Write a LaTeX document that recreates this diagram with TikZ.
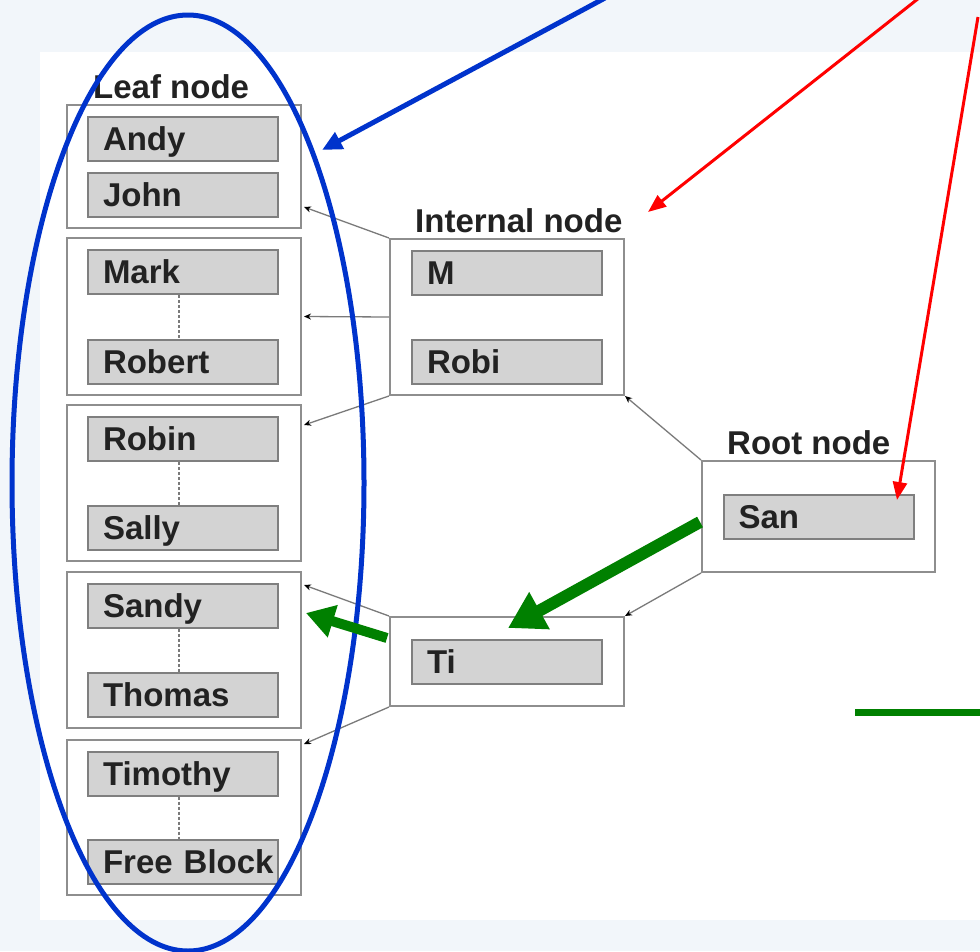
\documentclass[tikz,border=0pt]{standalone}
\usepackage{fontspec}
\setmainfont{Liberation Sans}
\usetikzlibrary{arrows.meta,calc}
\definecolor{bgtint}{HTML}{F2F6FA}
\definecolor{itemfill}{HTML}{D3D3D3}
\definecolor{itemline}{HTML}{7F7F7F}
\definecolor{boxline}{HTML}{8E8E8E}
\definecolor{conline}{HTML}{7A7A7A}
\definecolor{annblue}{HTML}{0033CC}
\definecolor{anngreen}{HTML}{008000}
\definecolor{txt}{HTML}{222222}
\tikzset{
  outerbox/.style={draw=boxline, line width=2pt, fill=white, minimum width=234pt, inner sep=0pt},
  itembox/.style={draw=itemline, line width=2pt, fill=itemfill, minimum width=190pt, minimum height=44pt,
     text width=190pt, inner xsep=0pt, inner ysep=0pt, align=left, text height=23pt, text depth=0pt,
     execute at begin node={\hspace*{15pt}},
     font=\fontsize{33}{35}\selectfont\bfseries, text=txt},
  lbl/.style={font=\fontsize{33}{35}\selectfont\bfseries, text=txt, inner sep=0pt, anchor=base west},
  con/.style={draw=conline, line width=1.3pt, -{Stealth[length=7pt,width=6pt,black]}},
  dashlink/.style={draw=conline, line width=1.2pt, dash pattern=on 3pt off 2pt},
  bluearrow/.style={draw=annblue, line width=5pt, -{Triangle[length=20pt,width=18pt]}},
  redarrow/.style={draw=red, line width=3pt, -{Triangle[length=18pt,width=14pt]}},
  greenarrow/.style={draw=anngreen, line width=12pt, -{Triangle[length=36pt,width=40pt]}},
}
\begin{document}
\begin{tikzpicture}[x=1pt,y=-1pt]
\useasboundingbox (0,0) rectangle (980,951);
% background
\fill[bgtint] (0,0) rectangle (980,951);
\fill[white] (40,52) rectangle (980,920);
% leaf outer boxes
\node[outerbox, minimum height=123pt] (L1) at (184,166.5) {};
\node[outerbox, minimum height=157pt] (L2) at (184,316.5) {};
\node[outerbox, minimum height=156pt] (L3) at (184,483) {};
\node[outerbox, minimum height=156pt] (L4) at (184,650) {};
\node[outerbox, minimum height=155pt] (L5) at (184,817.5) {};
% internal, root, Ti boxes
\node[outerbox, minimum height=156pt] (IN) at (507,317) {};
\node[outerbox, minimum width=233pt, minimum height=111pt] (RT) at (818.5,516.5) {};
\node[outerbox, minimum height=89pt] (TB) at (507,661.5) {};
% labels
\node[lbl] (lleaf) at (93,98) {Leaf node};
\node[lbl] (lint) at (415,232) {Internal node};
\node[lbl] (lroot) at (727,454) {Root node};
% items
\node[itembox] (andy) at (183,139) {Andy};
\node[itembox] (john) at (183,194.5) {John};
\node[itembox] (mark) at (183,272) {Mark};
\node[itembox] (robert) at (183,361.5) {Robert};
\node[itembox] (robin) at (183,439) {Robin};
\node[itembox] (sally) at (183,528) {Sally};
\node[itembox] (sandy) at (183,606) {Sandy};
\node[itembox] (thomas) at (183,695) {Thomas};
\node[itembox] (timothy) at (183,773.5) {Timothy};
\node[itembox] (free) at (183,862) {Free Block};
\node[itembox] (m) at (507,272.5) {M};
\node[itembox] (robi) at (507,361.5) {Robi};
\node[itembox] (san) at (818.5,517) {San};
\node[itembox] (ti) at (507,662) {Ti};
% dashed links
\draw[dashlink] ([xshift=-4pt]mark.south) -- ([xshift=-4pt]robert.north);
\draw[dashlink] ([xshift=-4pt]robin.south) -- ([xshift=-4pt]sally.north);
\draw[dashlink] ([xshift=-4pt]sandy.south) -- ([xshift=-4pt]thomas.north);
\draw[dashlink] ([xshift=-4pt]timothy.south) -- ([xshift=-4pt]free.north);
% connectors
\draw[con] (IN.north west) -- ($(L1.east)+(2,40.5)$);
\draw[con] (IN.west) -- ($(L2.east)+(2,0)$);
\draw[con] (IN.south west) -- ($(L3.east)+(2,-58)$);
\draw[con] (RT.north west) -- (IN.south east);
\draw[con] (RT.south west) -- (TB.north east);
\draw[con] (TB.north west) -- ($(L4.east)+(2,-65)$);
\draw[con] (TB.south west) -- ($(L5.north east)+(2,5)$);
% annotation: blue ellipse and arrow
\draw[annblue, line width=5pt] (188,483) ellipse [x radius=176, y radius=468];
\coordinate (bstart) at (605,-2);
\coordinate (bend) at (322,150);
\draw[bluearrow] (bstart) -- (bend);
% red arrows
\coordinate (r1start) at (919,-2);
\coordinate (r1end) at (648,212);
\draw[redarrow] (r1start) -- (r1end);
\coordinate (r2start) at (978,17);
\coordinate (r2end) at (897,500);
\draw[redarrow] (r2start) -- (r2end);
% green arrows
\coordinate (g1start) at (700,522);
\coordinate (g1end) at (508,628);
\draw[greenarrow] (g1start) -- (g1end);
\coordinate (g2start) at (387,638);
\coordinate (g2end) at (306,613);
\draw[greenarrow, -{Triangle[length=28pt,width=32pt]}, line width=10pt] (g2start) -- (g2end);
\coordinate (gl1) at (855,712);
\coordinate (gl2) at (980,712);
\draw[anngreen, line width=7pt] (gl1) -- (gl2);
\end{tikzpicture}
\end{document}
